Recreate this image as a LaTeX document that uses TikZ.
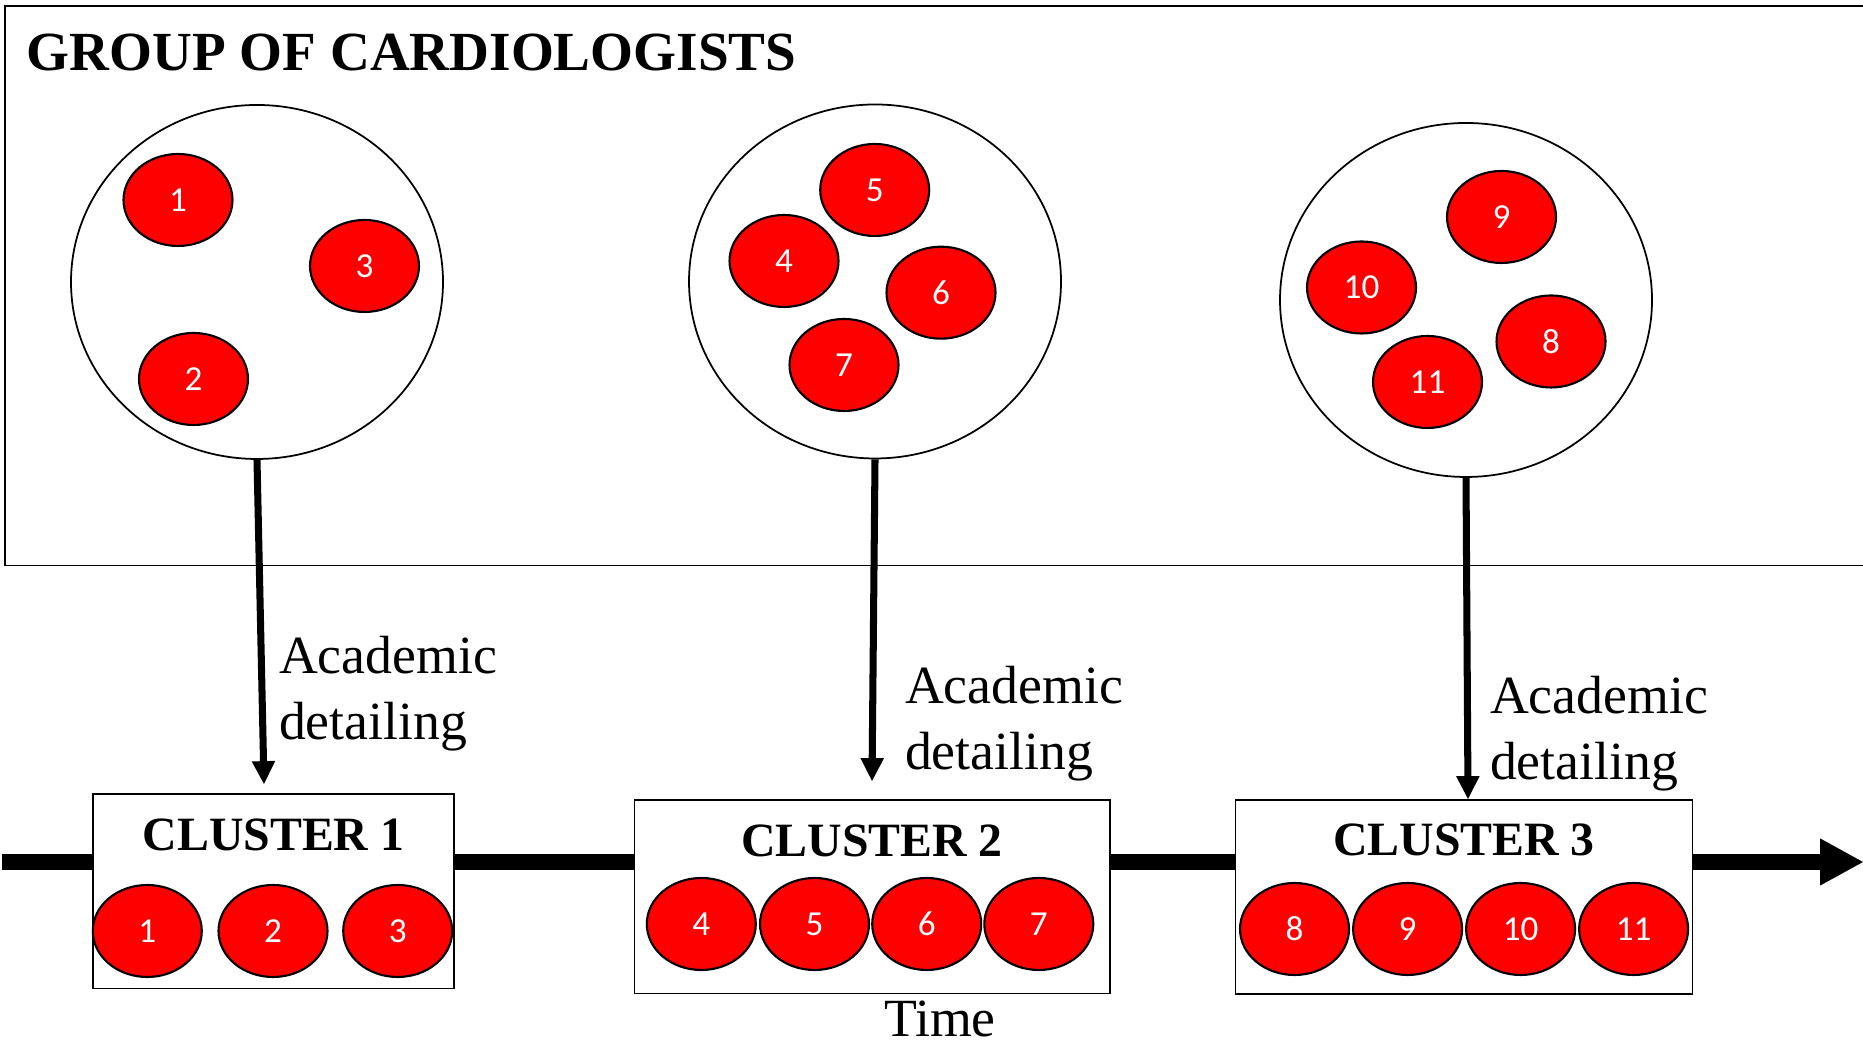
\documentclass[tikz,border=0pt]{standalone}
\usepackage{fontspec}
\setmainfont{Liberation Serif}
\newfontfamily\numfont{Carlito}
\usetikzlibrary{shapes.geometric,arrows.meta}

\begin{document}
\begin{tikzpicture}[
  group/.style={draw, line width=0.5pt, ellipse, inner sep=0pt, minimum width=3.72cm, minimum height=3.54cm},
  doc/.style={draw, line width=0.6pt, fill=red, ellipse, inner sep=0pt, minimum width=1.09cm, minimum height=0.92cm, text=white, font=\numfont\fontsize{10}{12}\selectfont},
  cluster/.style={draw, line width=0.45pt, fill=white, inner sep=0pt},
  clustername/.style={font=\bfseries\fontsize{13.6}{16}\selectfont, inner sep=0pt, anchor=base},
  adlabel/.style={align=left, inner sep=0pt, anchor=base west, font=\fontsize{15.3}{18.8}\selectfont},
  detail/.style={line width=2pt, -{Triangle[length=6.5pt,width=6.7pt,line width=0pt]}},
  timeline/.style={line width=4.5pt}
]
\useasboundingbox (0,0) rectangle (18.63,10.52);

% Kader met de groep
\draw[line width=0.5pt] (18.63,10.46) -- (0.05,10.46) -- (0.05,4.865) -- (18.63,4.865);
\node[anchor=base west, inner sep=0pt, font=\bfseries\fontsize{15.7}{19}\selectfont] (title) at (0.26,9.813) {GROUP OF CARDIOLOGISTS};

% Groepen artsen
\node[group] (g1) at (2.57,7.70) {};
\node[group] (g2) at (8.75,7.705) {};
\node[group] (g3) at (14.66,7.52) {};
\foreach \n/\x/\y in {1/1.78/8.52, 2/1.935/6.73, 3/3.645/7.86, 4/7.84/7.91, 5/8.747/8.62, 6/9.41/7.593, 7/8.44/6.87, 8/15.51/7.105, 9/15.015/8.35, 10/13.615/7.645, 11/14.275/6.70}
  \node[doc] (d\n) at (\x,\y) {\n};

% Clusters op de tijdlijn
\node[cluster, minimum width=3.61cm, minimum height=1.947cm] (b1) at (2.735,1.607) {};
\node[cluster, minimum width=4.754cm, minimum height=1.933cm] (b2) at (8.72,1.553) {};
\node[cluster, minimum width=4.571cm, minimum height=1.943cm] (b3) at (14.64,1.551) {};
\node[clustername] (h1) at ([yshift=-0.57cm]b1.north) {CLUSTER 1};
\node[clustername] (h2) at ([yshift=-0.57cm]b2.north) {CLUSTER 2};
\node[clustername] (h3) at ([yshift=-0.57cm]b3.north) {CLUSTER 3};
\foreach \n/\x in {1/1.473, 2/2.73, 3/3.977}
  \node[doc] (e\n) at (\x,1.21) {\n};
\foreach \n/\x in {4/7.013, 5/8.145, 6/9.267, 7/10.388}
  \node[doc] (e\n) at (\x,1.28) {\n};
\foreach \n/\x in {8/12.945, 9/14.076, 10/15.206, 11/16.336}
  \node[doc] (e\n) at (\x,1.23) {\n};

% Tijdlijn
\coordinate (t0) at (0.02,1.90);
\coordinate (t1) at (18.63,1.90);
\draw[timeline] (t0) -- (t0 -| b1.west);
\draw[timeline] (t0 -| b1.east) -- (t0 -| b2.west);
\draw[timeline] (t0 -| b2.east) -- (t0 -| b3.west);
\draw[timeline, -{Triangle[length=12.2pt,width=13.4pt,line width=0pt]}] (t0 -| b3.east) -- (t1);
\node[anchor=base, inner sep=0pt, font=\fontsize{15.3}{18}\selectfont] (time) at (9.40,0.15) {Time};

% Academic detailing
\coordinate (a1) at (2.64,2.68);
\coordinate (a2) at (8.72,2.71);
\coordinate (a3) at (14.68,2.53);
\draw[detail] (g1.south) -- (a1);
\draw[detail] (g2.south) -- (a2);
\draw[detail] (g3.south) -- (a3);
\node[adlabel] (l1) at (2.783,3.12) {Academic\\detailing};
\node[adlabel] (l2) at (9.043,2.827) {Academic\\detailing};
\node[adlabel] (l3) at (14.893,2.72) {Academic\\detailing};
\end{tikzpicture}
\end{document}
